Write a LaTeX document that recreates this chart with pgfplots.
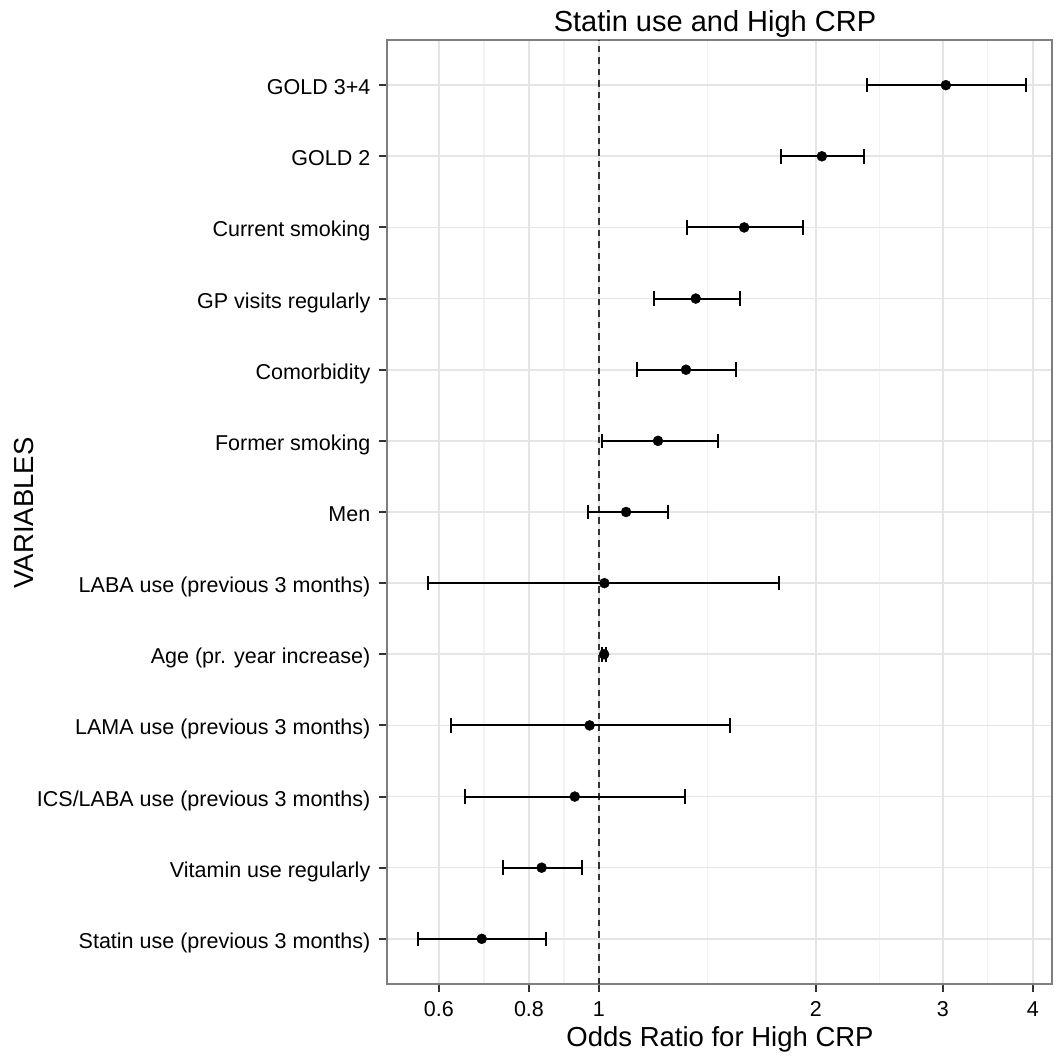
\documentclass[border=0pt]{standalone}
\usepackage{pgfplots}
\pgfplotsset{compat=1.18}
\usepackage{fontspec}
\setmainfont{Liberation Sans}
\definecolor{gridmaj}{RGB}{229,229,229}
\definecolor{gridmin}{RGB}{243,243,243}
\definecolor{borderc}{RGB}{127,127,127}
\definecolor{tickc}{RGB}{51,51,51}
\newcommand\tickfont{\fontsize{21.5}{24}\selectfont}
\newcommand\labfont{\fontsize{27.5}{30}\selectfont}
\newcommand\titfont{\fontsize{29}{32}\selectfont}
\begin{document}
\begin{tikzpicture}
\path[use as bounding box] (0,0) rectangle (1054pt,1057pt);
\begin{axis}[
  scale only axis, width=665pt, height=944pt,
  anchor=south west, at={(387pt,73pt)},
  xmode=log, xmin=0.5083, xmax=4.253,
  ymin=0.365, ymax=13.635,
  xtick={0.6,0.8,1,2,3,4},
  xticklabels={0.6,0.8,1,2,3,4},
  minor xtick={0.6928,0.8944,1.4142,2.4495,3.4641},
  ytick={1,...,13},
  yticklabels={Statin use (previous 3 months),Vitamin use regularly,ICS/LABA use (previous 3 months),LAMA use (previous 3 months),Age (pr. year increase),LABA use (previous 3 months),Men,Former smoking,Comorbidity,GP visits regularly,Current smoking,GOLD 2,GOLD 3+4},
  tick pos=left, tick align=outside,
  major tick length=8.5pt, minor tick length=0pt,
  major tick style={color=tickc, line width=2pt},
  xmajorgrids, ymajorgrids, xminorgrids,
  major grid style={color=gridmaj, line width=1.6pt},
  minor grid style={color=gridmin, line width=1.3pt},
  axis line style={color=borderc, line width=1.5pt},
  xticklabel style={font=\tickfont, anchor=base, inner sep=0pt, yshift=-24.5pt},
  yticklabel style={font=\tickfont, anchor=base east, inner sep=0pt, xshift=-8pt, yshift=-9.5pt},
  clip=false,
]
\addplot[color=tickc, line width=1.8pt, dash pattern=on 6.5pt off 5pt] coordinates {(1,0.365) (1,13.635)};
% confidence intervals (lower, upper)
\addplot[black, line width=2pt, mark=|, mark size=7.3pt] coordinates {(2.356,13) (3.918,13)};
\addplot[black, line width=2pt, mark=|, mark size=7.3pt] coordinates {(1.791,12) (2.333,12)};
\addplot[black, line width=2pt, mark=|, mark size=7.3pt] coordinates {(1.325,11) (1.919,11)};
\addplot[black, line width=2pt, mark=|, mark size=7.3pt] coordinates {(1.191,10) (1.569,10)};
\addplot[black, line width=2pt, mark=|, mark size=7.3pt] coordinates {(1.130,9) (1.552,9)};
\addplot[black, line width=2pt, mark=|, mark size=7.3pt] coordinates {(1.010,8) (1.465,8)};
\addplot[black, line width=2pt, mark=|, mark size=7.3pt] coordinates {(0.965,7) (1.248,7)};
\addplot[black, line width=2pt, mark=|, mark size=7.3pt] coordinates {(0.579,6) (1.781,6)};
\addplot[black, line width=2pt, mark=|, mark size=7.3pt] coordinates {(1.010,5) (1.024,5)};
\addplot[black, line width=2pt, mark=|, mark size=7.3pt] coordinates {(0.624,4) (1.520,4)};
\addplot[black, line width=2pt, mark=|, mark size=7.3pt] coordinates {(0.652,3) (1.317,3)};
\addplot[black, line width=2pt, mark=|, mark size=7.3pt] coordinates {(0.736,2) (0.949,2)};
\addplot[black, line width=2pt, mark=|, mark size=7.3pt] coordinates {(0.561,1) (0.844,1)};
% odds ratios
\addplot[only marks, mark=*, mark size=5pt, black] coordinates {
(3.030,13) (2.039,12) (1.591,11) (1.363,10) (1.321,9) (1.208,8) (1.091,7)
(1.018,6) (1.017,5) (0.971,4) (0.926,3) (0.833,2) (0.688,1)};
\end{axis}
\node[font=\titfont, anchor=base] at (715pt,1025.3pt) {Statin use and High CRP};
\node[font=\labfont, anchor=base] at (720pt,10pt) {Odds Ratio for High CRP};
\node[font=\labfont, rotate=90, anchor=base] at (33pt,544pt) {VARIABLES};
\end{tikzpicture}
\end{document}
